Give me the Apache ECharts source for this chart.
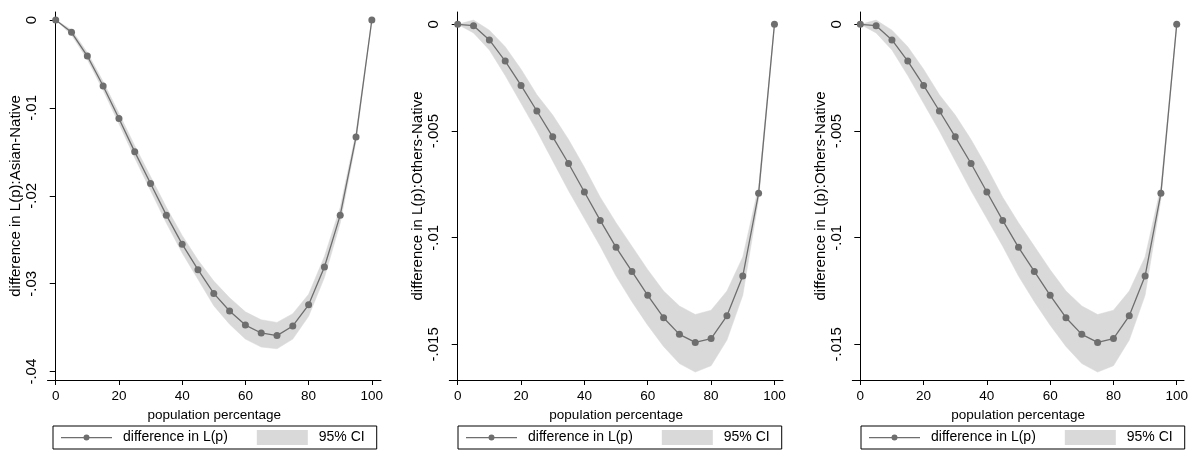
<!DOCTYPE html>
<html>
<head>
<meta charset="utf-8">
<script src="https://cdn.jsdelivr.net/npm/echarts@6/dist/echarts.min.js"></script>
<style>
html, body { margin: 0; padding: 0; background: #fff; }
#main { width: 1191px; height: 451px; }
</style>
</head>
<body>
<div id="main"></div>
<script>
// population percentage (x)
var popPct = [0, 5, 10, 15, 20, 25, 30, 35, 40, 45, 50, 55, 60, 65, 70, 75, 80, 85, 90, 95, 100];

// Asian - Native
var asianDiff = [0, -0.0014, -0.0041, -0.0075, -0.0112, -0.0150, -0.0186, -0.0222, -0.0255, -0.0284, -0.0311,
	-0.0331, -0.0347, -0.0356, -0.0359, -0.0348, -0.0324, -0.0281, -0.0222, -0.0133, 0];
var asianLow = [0, -0.0017, -0.0045, -0.0080, -0.0118, -0.0157, -0.0194, -0.0231, -0.0265, -0.0295, -0.0325,
	-0.0346, -0.0363, -0.0372, -0.0374, -0.0363, -0.0337, -0.0293, -0.0231, -0.0138, 0];
var asianHigh = [0, -0.0011, -0.0037, -0.0070, -0.0106, -0.0143, -0.0178, -0.0213, -0.0245, -0.0273, -0.0297,
	-0.0316, -0.0332, -0.0341, -0.0344, -0.0334, -0.0312, -0.0269, -0.0213, -0.0128, 0];

// Others - Native
var otherDiff = [0, -0.00006, -0.00073, -0.00172, -0.00286, -0.00406, -0.00527, -0.00652, -0.00786, -0.00919, -0.01045,
	-0.01158, -0.01270, -0.01375, -0.01453, -0.01491, -0.01473, -0.01366, -0.01180, -0.00792, 0];
var otherLow = [0, -0.0004, -0.0012, -0.0024, -0.0037, -0.0050, -0.0064, -0.0078, -0.0091, -0.0104, -0.0118,
	-0.0130, -0.0141, -0.0151, -0.0159, -0.0163, -0.0160, -0.0148, -0.0127, -0.0082, 0];
var otherHigh = [0, 0.0002, -0.00027, -0.00105, -0.0021, -0.0033, -0.00425, -0.0054, -0.0067, -0.0081, -0.0093,
	-0.0104, -0.0115, -0.0125, -0.0132, -0.0136, -0.0134, -0.0125, -0.0109, -0.0076, 0];

var xTicks = [0, 20, 40, 60, 80, 100];
var asianTicks = [-0.04, -0.03, -0.02, -0.01, 0];
var otherTicks = [-0.015, -0.01, -0.005, 0];

var lineName = 'difference in L(p)';
var ciName = '95% CI';
var lineColor = '#6e6e6e';
var bandColor = '#d9d9d9';
var font = 'Arial, "Liberation Sans", sans-serif';

// 三个面板
var panels = [
	{ left: 47.5, width: 333.5, xMin: -2.6, xMax: 102.9, yMin: -0.04095, yMax: 0.00091,
		yName: 'difference in L(p):Asian-Native', yTicks: asianTicks,
		diff: asianDiff, low: asianLow, high: asianHigh, legendLeft: 53 },
	{ left: 449.3, width: 333.7, xMin: -2.65, xMax: 102.7, yMin: -0.01667, yMax: 0.00058,
		yName: 'difference in L(p):Others-Native', yTicks: otherTicks,
		diff: otherDiff, low: otherLow, high: otherHigh, legendLeft: 458 },
	{ left: 852.3, width: 331.7, xMin: -2.53, xMax: 102.3, yMin: -0.01667, yMax: 0.00058,
		yName: 'difference in L(p):Others-Native', yTicks: otherTicks,
		diff: otherDiff, low: otherLow, high: otherHigh, legendLeft: 861 }
];

function stataNum(v) {
	if (v === 0) return '0';
	return String(+v.toFixed(4)).replace('0.', '.');
}

function pairs(ys) {
	return popPct.map(function(x, i) {
		return [x, ys[i]];
	});
}

// 置信带多边形：上界从左到右，下界从右到左
function bandRenderer(rows) {
	return function(params, api) {
		if (params.dataIndex !== 0) return;
		var pts = [], i;
		for (i = 0; i < rows.length; i++) pts.push(api.coord([rows[i][0], rows[i][2]]));
		for (i = rows.length - 1; i >= 0; i--) pts.push(api.coord([rows[i][0], rows[i][1]]));
		return {
			type: 'polygon',
			shape: { points: pts },
			style: { fill: bandColor, stroke: bandColor, lineWidth: 0.5 }
		};
	};
}

var grid = [], xAxis = [], yAxis = [], series = [], legend = [];

panels.forEach(function(p, k) {
	grid.push({ left: p.left, top: 12, width: p.width, height: 368 });

	xAxis.push({
		type: 'value', gridIndex: k, min: p.xMin, max: p.xMax,
		name: 'population percentage', nameLocation: 'middle', nameGap: 17,
		nameTextStyle: { color: '#000', fontSize: 13.5, fontFamily: font },
		axisLine: { onZero: false, lineStyle: { color: '#000', width: 1 } },
		axisTick: { length: 5, customValues: xTicks, lineStyle: { color: '#000' } },
		axisLabel: { customValues: xTicks, margin: 9, color: '#000', fontSize: 13.5, fontFamily: font },
		splitLine: { show: false }
	});

	yAxis.push({
		type: 'value', gridIndex: k, min: p.yMin, max: p.yMax,
		name: p.yName, nameLocation: 'middle', nameGap: 23,
		nameTextStyle: { color: '#000', fontSize: 15, fontFamily: font },
		axisLine: { show: true, lineStyle: { color: '#000', width: 1 } },
		axisTick: { show: true, length: 6, customValues: p.yTicks, lineStyle: { color: '#000' } },
		axisLabel: {
			rotate: 90, margin: 8, customValues: p.yTicks, color: '#000', fontSize: 15, fontFamily: font,
			formatter: stataNum
		},
		splitLine: { show: false }
	});

	var rows = popPct.map(function(x, i) {
		return [x, p.low[i], p.high[i]];
	});
	series.push({
		name: ciName, type: 'custom', xAxisIndex: k, yAxisIndex: k,
		data: rows, encode: { x: 0, y: [1, 2] },
		itemStyle: { color: bandColor }, renderItem: bandRenderer(rows), silent: true, z: 1
	});
	series.push({
		name: lineName, type: 'line', xAxisIndex: k, yAxisIndex: k, data: pairs(p.diff),
		symbol: 'circle', symbolSize: 7, showAllSymbol: true, color: lineColor,
		lineStyle: { color: lineColor, width: 1.3 }, itemStyle: { color: lineColor }, z: 3
	});

	legend.push({
		left: p.legendLeft, top: 426, orient: 'horizontal',
		padding: [4, 12, 4, 8], itemGap: 29, itemWidth: 51, itemHeight: 15,
		borderColor: '#000', borderWidth: 1, borderRadius: 0, selectedMode: false,
		itemStyle: { borderWidth: 0 },
		textStyle: { color: '#000', fontSize: 14, fontFamily: font, padding: [0, 0, 0, 6] },
		data: [
			{ name: lineName, itemStyle: { color: lineColor },
				icon: 'path://M0,0L0.01,0L0.01,0.01Z M0,7L51,7L51,8.2L0,8.2Z M28.5,7.6A3,3,0,1,1,22.5,7.6A3,3,0,1,1,28.5,7.6Z M51,15L50.99,15L50.99,14.99Z' },
			{ name: ciName, icon: 'rect', itemStyle: { color: bandColor } }
		]
	});
});

var myChart = echarts.init(document.getElementById('main'));
myChart.setOption({
	backgroundColor: '#fff',
	animation: false,
	grid: grid,
	xAxis: xAxis,
	yAxis: yAxis,
	legend: legend,
	series: series
});
</script>
</body>
</html>
